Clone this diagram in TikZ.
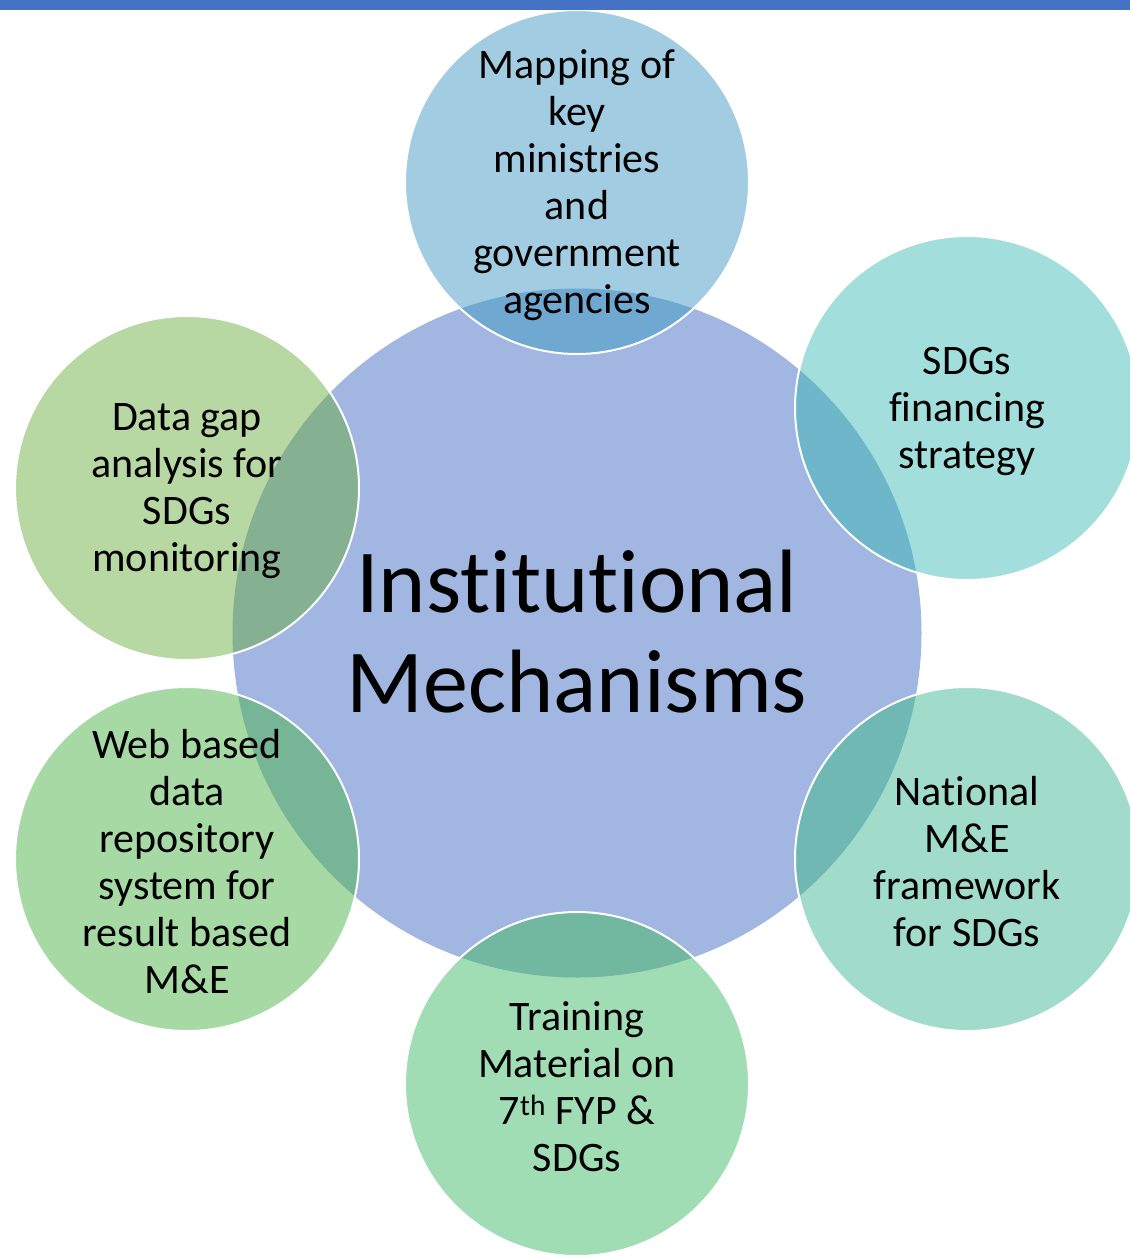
\documentclass[tikz,border=0pt]{standalone}
\usepackage{fontspec}
\setmainfont{Carlito}[Ligatures=NoCommon]
\definecolor{barblue}{HTML}{4472C4}
\definecolor{cmain}{HTML}{A1B6E0}
\definecolor{ctop}{HTML}{A2CCE1}
\definecolor{otop}{HTML}{6FA8D1}
\definecolor{crt}{HTML}{A1DEDC}
\definecolor{ort}{HTML}{6EB7CB}
\definecolor{crb}{HTML}{A0DCC9}
\definecolor{orb}{HTML}{70B8B4}
\definecolor{cbot}{HTML}{A0DCB4}
\definecolor{obot}{HTML}{72B7A0}
\definecolor{clb}{HTML}{A6D9A4}
\definecolor{olb}{HTML}{76B596}
\definecolor{clt}{HTML}{B7D7A3}
\definecolor{olt}{HTML}{86B092}
\tikzset{
  sattext/.style={align=center, inner sep=0pt, font=\fontsize{42}{47}\selectfont},
  maintext/.style={align=center, inner sep=0pt, font=\fontsize{90}{100}\selectfont},
  ring/.style={draw=white, line width=2pt},
}
\newcommand{\satcircle}[6]{%
  \fill[#4] (#2,#3) circle (172);
  \begin{scope}
    \clip (577,633) circle (344.5);
    \fill[#5] (#2,#3) circle (172);
  \end{scope}
  \draw[ring] (#2,#3) circle (172);
  \node[sattext] (#1) at (#2,#3+3) {#6};
}
\begin{document}
\begin{tikzpicture}[x=1pt,y=-1pt]
\useasboundingbox (0,0) rectangle (1130,1258);
\clip (0,0) rectangle (1130,1258);
\fill[white] (0,0) rectangle (1130,1258);
\fill[cmain] (577,633) circle (344.5);
\satcircle{top}{577}{182}{ctop}{otop}{Mapping of\\key\\ministries\\and\\government\\agencies}
\satcircle{rt}{967}{408}{crt}{ort}{SDGs\\financing\\strategy}
\satcircle{rb}{967}{859}{crb}{orb}{National\\M\&E\\framework\\for SDGs}
\satcircle{bot}{577}{1084}{cbot}{obot}{Training\\Material on\\7\textsuperscript{th} FYP \&\\SDGs}
\satcircle{lb}{187}{859}{clb}{olb}{Web based\\data\\repository\\system for\\result based\\M\&E}
\satcircle{lt}{187}{488}{clt}{olt}{Data gap\\analysis for\\SDGs\\monitoring}
\node[maintext] (main) at (577,632) {Institutional\\Mechanisms};
\fill[barblue] (0,0) rectangle (1130,10);
\end{tikzpicture}
\end{document}
